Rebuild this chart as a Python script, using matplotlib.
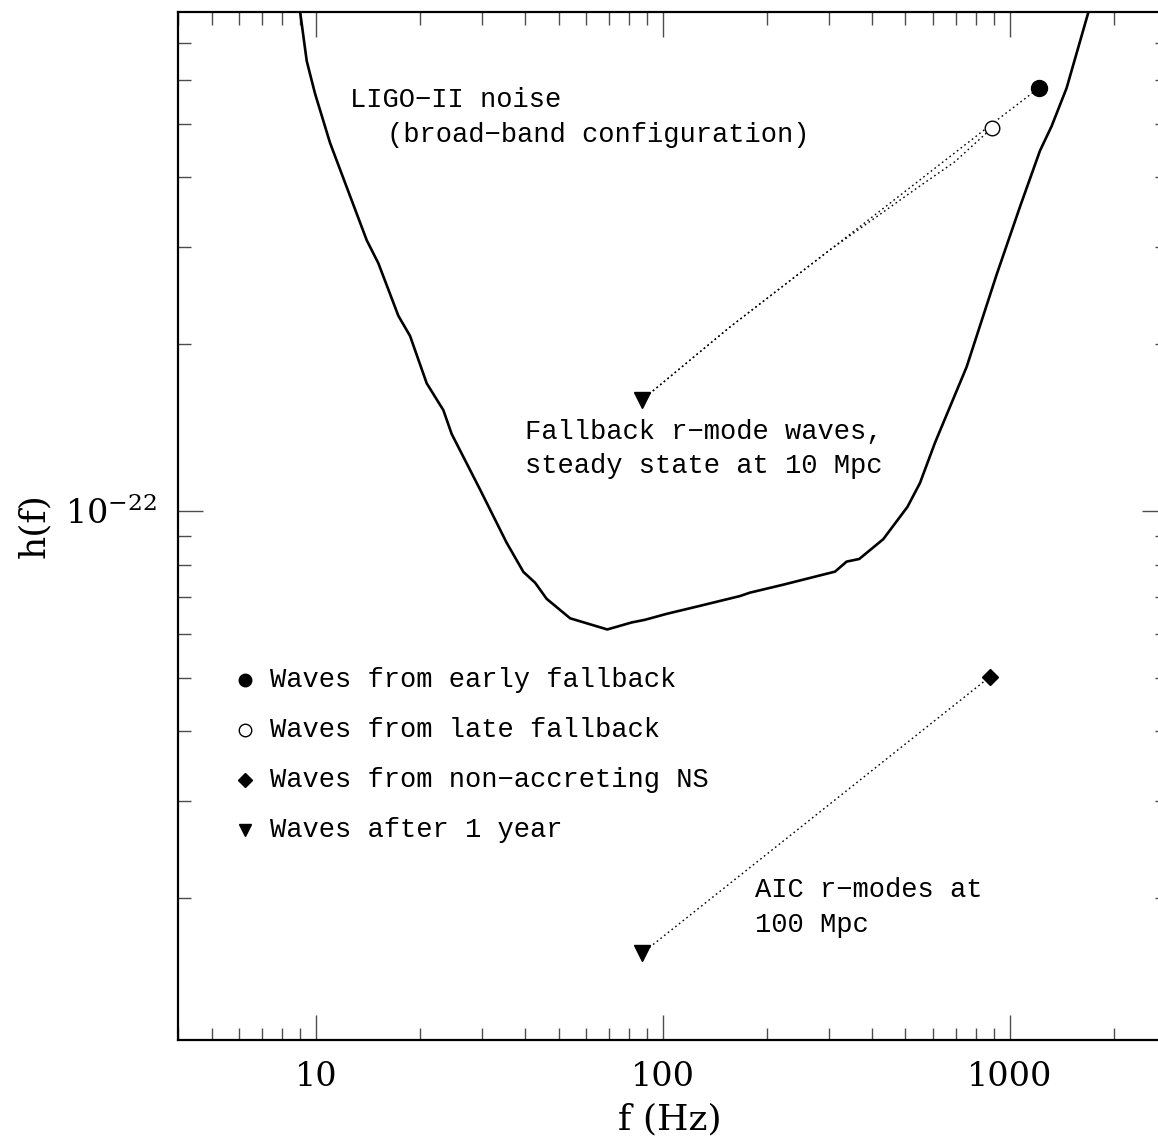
import matplotlib
matplotlib.use("Agg")
import matplotlib.pyplot as plt
from matplotlib.ticker import NullFormatter, LogLocator

plt.rcParams['font.family'] = ['DejaVu Serif']
plt.rcParams['mathtext.fontset'] = 'dejavuserif'

# LIGO-II broad-band noise curve (f in Hz, h in units of 1e-22)
noise_f = [8.87, 9.40, 9.93, 10.97, 12.26, 14.0, 15.12, 17.27, 18.66, 20.84,
           23.28, 24.6, 29.7, 35.4, 39.6, 42.8, 46.2, 54.0, 69.1, 81.2,
           88.7, 102.5, 127.8, 166.7, 178.1, 222.2, 313.2, 338.3, 367.9, 431.3,
           506.6, 550.5, 608.0, 750.4, 915.5, 1069, 1221, 1319, 1457, 1723]
noise_h = [8.5, 6.49, 5.67, 4.62, 3.84, 3.08, 2.80, 2.25, 2.07, 1.70,
           1.52, 1.377, 1.093, 0.877, 0.776, 0.742, 0.694, 0.640, 0.611, 0.629,
           0.636, 0.652, 0.674, 0.702, 0.712, 0.736, 0.777, 0.810, 0.819, 0.889,
           1.017, 1.123, 1.327, 1.82, 2.67, 3.54, 4.47, 4.95, 5.80, 8.36]

# fallback tracks at 10 Mpc
early_f = [87, 156.0, 302.9, 887.7, 1212]
early_h = [1.586, 2.148, 2.96, 4.996, 5.80]
late_f = [87, 156.0, 302.9, 550.5, 694.3, 887]
late_h = [1.586, 2.148, 2.96, 3.86, 4.27, 4.91]

# AIC track at 100 Mpc
aic_f = [87, 876]
aic_h = [0.159, 0.502]

legend_labels = ["Waves from early fallback", "Waves from late fallback",
                 "Waves from non\u2212accreting NS", "Waves after 1 year"]

scale = 1e-22

fig = plt.figure(figsize=(11.58, 11.42), dpi=100)
ax = fig.add_axes([0.1537, 0.0893, 0.854, 0.9002])

ax.plot(noise_f, [v * scale for v in noise_h], color='black', lw=1.9)

dots = (0, (1.2, 2.2))
ax.plot(early_f, [v * scale for v in early_h], color='black', lw=1.0, ls=dots)
ax.plot(late_f, [v * scale for v in late_h], color='black', lw=1.0, ls=dots)
ax.plot(aic_f, [v * scale for v in aic_h], color='black', lw=1.0, ls=dots)

# markers
ax.plot(early_f[-1], early_h[-1] * scale, 'o', color='black', ms=11.5)
ax.plot(late_f[-1], late_h[-1] * scale, 'o', mfc='white', mec='black', mew=1.0, ms=10.5)
ax.plot(early_f[0], early_h[0] * scale, 'v', color='black', ms=12)
ax.plot(aic_f[-1], aic_h[-1] * scale, 'D', color='black', ms=8.5)
ax.plot(aic_f[0], aic_h[0] * scale, 'v', color='black', ms=12)

ax.set_xscale('log')
ax.set_yscale('log')
ax.set_xlim(4, 2835)
ax.set_ylim(1.109e-23, 7.955e-22)

ax.set_xticks([10, 100, 1000])
ax.set_xticklabels(['10', '100', '1000'])
ax.xaxis.set_minor_locator(LogLocator(base=10, subs=range(2, 10)))
ax.xaxis.set_minor_formatter(NullFormatter())
ax.set_yticks([1e-22])
ax.set_yticklabels([r'$10^{-22}$'])
ax.yaxis.set_minor_locator(LogLocator(base=10, subs=range(2, 10)))
ax.yaxis.set_minor_formatter(NullFormatter())

ax.tick_params(which='both', direction='in', top=True, right=True,
               color='0.3', width=1.0)
ax.tick_params(which='major', length=18, labelsize=24, pad=15)
ax.tick_params(which='minor', length=9)
for sp in ax.spines.values():
    sp.set_linewidth(1.6)

ax.set_xlabel('f (Hz)', fontsize=26)
ax.set_ylabel('h(f)', fontsize=26)
ax.xaxis.set_label_coords(0.497, -0.061)
ax.yaxis.set_label_coords(-0.128, 0.50)

# the annotation text is set in a wide serif monospace like the original
txt_font = ['Liberation Mono', 'DejaVu Sans Mono']
fs = 19.5
notes = [(0.1739, 0.9144, "LIGO\u2212II noise"),
         (0.2113, 0.8804, "(broad\u2212band configuration)"),
         (0.3509, 0.5914, "Fallback r\u2212mode waves,"),
         (0.3509, 0.5584, "steady state at 10 Mpc"),
         (0.5834, 0.1459, "AIC r\u2212modes at"),
         (0.5834, 0.1119, "100 Mpc")]
for xx, yy, s in notes:
    ax.text(xx, yy, s, transform=ax.transAxes, fontsize=fs, va='center',
            family=txt_font)

# hand-made legend
leg_y = [0.3502, 0.3016, 0.2529, 0.2043]
leg_style = [dict(marker='o', color='black', ms=9),
             dict(marker='o', mfc='white', mec='black', mew=1.0, ms=9),
             dict(marker='D', color='black', ms=7),
             dict(marker='v', color='black', ms=9)]
for yy, lab, st in zip(leg_y, legend_labels, leg_style):
    ax.plot([0.0677], [yy], transform=ax.transAxes, ls='none', **st)
    ax.text(0.0930, yy, lab, transform=ax.transAxes, fontsize=fs, va='center',
            family=txt_font)

fig.savefig('out.png', dpi=100)
